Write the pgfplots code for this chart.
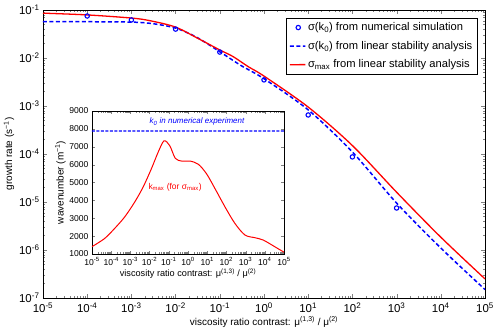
\documentclass[border=0pt]{standalone}
\usepackage{fontspec}
\setmainfont{Liberation Sans}
\usepackage{pgfplots}
\pgfplotsset{compat=1.18}
\usetikzlibrary{calc}

\definecolor{mblue}{rgb}{0,0,1}
\definecolor{mred}{rgb}{1,0,0}

\begin{document}
\begin{tikzpicture}
% main panel: growth rate
\begin{axis}[
    name=main,
    scale only axis,
    width=442bp, height=288bp,
    xmode=log, ymode=log,
    xmin=1e-5, xmax=1e5,
    ymin=1e-7, ymax=1e-1,
    xtick={1e-5,1e-4,1e-3,1e-2,1e-1,1,1e1,1e2,1e3,1e4,1e5},
    ytick={1e-7,1e-6,1e-5,1e-4,1e-3,1e-2,1e-1},
    tick align=inside,
    major tick length=4bp, minor tick length=2bp,
    log number format basis/.code 2 args={#1\textsuperscript{\pgfmathprintnumber{#2}}},
    /pgf/number format/assume math mode=true,
    tick label style={font=\fontsize{11.5}{13}\selectfont},
    label style={font=\fontsize{10}{12}\selectfont},
    xlabel={viscosity ratio contrast: μ\textsuperscript{(1,3)} / μ\textsuperscript{(2)}},
    ylabel={growth rate (s\textsuperscript{−1})},
    xticklabel style={yshift=-1bp},
    xlabel style={yshift=3bp},
    ylabel style={yshift=-2bp},
    legend style={at={(rel axis cs:0.982,0.972)}, anchor=north east,
        font=\fontsize{11.2}{13}\selectfont, draw=black, line width=0.4pt,
        row sep=5bp, inner sep=2.5bp},
    legend cell align=left,
]
\addplot[mblue, only marks, mark=o, mark size=2.2pt, line width=1.1pt] coordinates {
    (1e-4,0.075) (1e-3,0.062) (1e-2,0.040) (1e-1,0.0133)
    (1,0.0035) (1e1,6.5e-4) (1e2,8.7e-5) (1e3,7.5e-6)
};
\addlegendentry{σ(k\textsubscript{0}) from numerical simulation}

\addplot[mblue, line width=1.5pt, dash pattern=on 4bp off 2.5bp, smooth,
    legend image code/.code={\draw[mblue, line width=1.5pt, dash pattern=on 4bp off 2.5bp] (0cm,0cm) -- (0.55cm,0.05pt);}] coordinates {
    (1e-5,0.057) (1e-4,0.057) (1e-3,0.056) (3e-3,0.052) (1e-2,0.042)
    (3e-2,0.027) (1e-1,0.0135) (3e-1,0.0070) (1,0.0037) (1e1,8.3e-4)
    (1e2,1.1e-4) (1e3,9.5e-6) (1e4,1.1e-6) (1e5,1.5e-7)
};
\addlegendentry{σ(k\textsubscript{0}) from linear stability analysis}

\addplot[red, line width=1.3pt, smooth,
    legend image code/.code={\draw[red, line width=1.3pt] (0cm,0cm) -- (0.55cm,0.05pt);}] coordinates {
    (1e-5,0.086) (1e-4,0.079) (1e-3,0.068) (2.6e-3,0.060) (1e-2,0.044)
    (3.5e-2,0.0245) (1e-1,0.0147) (2e-1,0.0107) (4.4e-1,0.0066) (1,0.0042)
    (1e1,9.5e-4) (1e2,1.5e-4) (1e3,1.6e-5) (1e4,1.85e-6) (1e5,2.5e-7)
};
\addlegendentry{σ\textsubscript{max} from linear stability analysis}
\end{axis}

% inset: wavenumber
\begin{axis}[
    at={($(main.south west)+(49bp,44bp)$)},
    anchor=south west,
    scale only axis,
    width=192bp, height=143bp,
    xmode=log,
    xmin=1e-5, xmax=1e5,
    ymin=1000, ymax=9000,
    xtick={1e-5,1e-4,1e-3,1e-2,1e-1,1,1e1,1e2,1e3,1e4,1e5},
    ytick={1000,2000,...,9000},
    axis background/.style={fill=white},
    tick align=inside,
    major tick length=3bp, minor tick length=1.5bp,
    log number format basis/.code 2 args={#1\textsuperscript{\pgfmathprintnumber{#2}}},
    /pgf/number format/assume math mode=true,
    yticklabel style={/pgf/number format/1000 sep={}},
    tick label style={font=\fontsize{8.6}{10}\selectfont},
    xlabel style={font=\fontsize{9.2}{11}\selectfont, yshift=4bp},
    ylabel style={font=\fontsize{10}{12}\selectfont, yshift=-3bp},
    xlabel={viscosity ratio contrast: μ\textsuperscript{(1,3)} / μ\textsuperscript{(2)}},
    ylabel={wavenumber (m\textsuperscript{−1})},
]
\addplot[mblue, line width=1.1pt, dash pattern=on 3bp off 1.5bp] coordinates {
    (1e-5,7880) (1e5,7882)
};
\addplot[red, line width=1pt, smooth] coordinates {
    (1e-5,1410) (4.57e-5,1870) (1.51e-4,2430) (5.01e-4,3070) (1.66e-3,3900)
    (4.57e-3,4740) (1.23e-2,5760) (2.75e-2,6680) (5.62e-2,7330) (1.12e-1,7060)
    (2.19e-1,6350) (4.68e-1,6200) (1.26,6200) (3.47,6020) (9.33,5480)
    (25.7,4650) (85.1,3630) (282,2700) (933,2060) (3090,1910) (8320,1780)
    (33900,1400) (1e5,1100)
};
\node[anchor=center, text=mblue, font=\fontsize{8}{10}\selectfont\itshape]
    at (axis cs:2.95,8390) {k\textsubscript{0} in numerical experiment};
\node[anchor=west, text=red, font=\fontsize{8.5}{10}\selectfont]
    at (axis cs:5.75e-3,4750) {k\textsubscript{max} (for σ\textsubscript{max})};
\end{axis}

\pgfresetboundingbox
\path[use as bounding box] ($(main.south west)+(-43bp,-34bp)$) rectangle ($(main.south west)+(455bp,298bp)$);
\end{tikzpicture}
\end{document}
